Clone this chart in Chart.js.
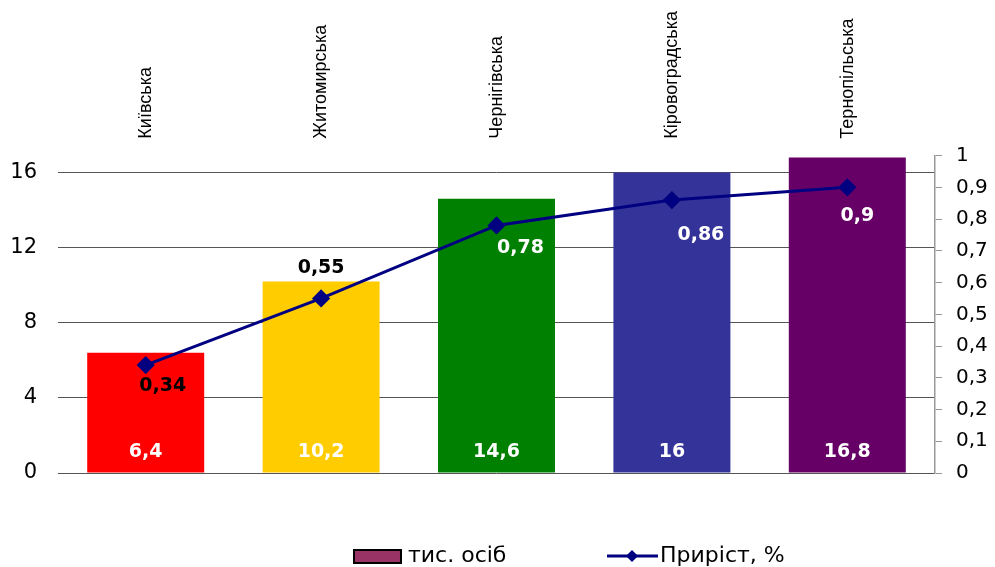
<!DOCTYPE html>
<html>
<head>
<meta charset="utf-8">
<script src="https://cdn.jsdelivr.net/npm/chart.js@4.4.1/dist/chart.umd.min.js"></script>
<style>
html,body{margin:0;padding:0;background:#fff;}
#wrap{width:995px;height:567px;}
</style>
</head>
<body>
<div id="wrap"><canvas id="chart"></canvas></div>
<script>
// дані
var oblasti = ["Київська", "Житомирська", "Чернігівська", "Кіровоградська", "Тернопільська"];
var tysOsib = [6.4, 10.2, 14.6, 16, 16.8];
var pryrist = [0.34, 0.55, 0.78, 0.86, 0.9];
var leftTicks = [0, 4, 8, 12, 16];
var barColors = ["#ff0000", "#ffcc00", "#008000", "#333399", "#660066"];
var legendNames = ["тис. осіб", "Приріст, %"];

// зсуви підписів лінії (dx, dy) та кольори
var lineLblOffset = [[17, 21], [0, -30], [24, 23], [29, 35], [10, 29]];
var lineLblColor = ["#000", "#000", "#fff", "#fff", "#fff"];

function koma(v){ return String(v).replace(".", ","); }

var FONT = "'Liberation Sans', Arial, sans-serif";
var WIDE = "'DejaVu Sans', sans-serif";

var labelsPlugin = {
    id: "labels",
    afterDatasetsDraw: function(chart){
        var ctx = chart.ctx;
        ctx.save();
        ctx.font = "bold 19px " + WIDE;
        ctx.textAlign = "center";
        ctx.textBaseline = "middle";
        var bars = chart.getDatasetMeta(1).data;
        for (let i = 0; i < bars.length; i++) {
            ctx.fillStyle = "#fff";
            ctx.fillText(koma(tysOsib[i]), bars[i].x, chart.chartArea.bottom - 21);
        }
        var pts = chart.getDatasetMeta(0).data;
        for (let i = 0; i < pts.length; i++) {
            ctx.fillStyle = lineLblColor[i];
            ctx.fillText(koma(pryrist[i]), pts[i].x + lineLblOffset[i][0], pts[i].y + lineLblOffset[i][1]);
        }
        ctx.restore();
    }
};

var legendPlugin = {
    id: "myLegend",
    afterDraw: function(chart){
        var ctx = chart.ctx;
        var y = 556;
        ctx.save();
        ctx.font = "22px " + WIDE;
        ctx.textBaseline = "middle";
        ctx.textAlign = "left";
        // прямокутник
        ctx.fillStyle = "#993366";
        ctx.fillRect(354, y - 6, 47, 13);
        ctx.strokeStyle = "#000";
        ctx.lineWidth = 2;
        ctx.strokeRect(354, y - 6, 47, 13);
        ctx.fillStyle = "#000";
        ctx.fillText(legendNames[0], 408, y);
        // лінія з ромбом
        ctx.strokeStyle = "#000080";
        ctx.lineWidth = 3;
        ctx.beginPath();
        ctx.moveTo(607, y);
        ctx.lineTo(658, y);
        ctx.stroke();
        ctx.fillStyle = "#000080";
        ctx.beginPath();
        ctx.moveTo(632, y - 6);
        ctx.lineTo(638, y);
        ctx.lineTo(632, y + 6);
        ctx.lineTo(626, y);
        ctx.closePath();
        ctx.fill();
        ctx.fillStyle = "#000";
        ctx.fillText(legendNames[1], 660, y);
        ctx.restore();
    }
};

var ctx = document.getElementById("chart").getContext("2d");
var chart = new Chart(ctx, {
    data: {
        labels: oblasti,
        datasets: [
            {
                type: "line",
                label: legendNames[1],
                data: pryrist,
                yAxisID: "y1",
                borderColor: "#000080",
                backgroundColor: "#000080",
                borderWidth: 3,
                pointStyle: "rectRot",
                pointRadius: 7,
                pointHoverRadius: 7,
                tension: 0
            },
            {
                type: "bar",
                label: legendNames[0],
                data: tysOsib,
                yAxisID: "y",
                backgroundColor: barColors,
                categoryPercentage: 1,
                barPercentage: 0.667
            }
        ]
    },
    options: {
        responsive: true,
        maintainAspectRatio: false,
        animation: false,
        layout: { padding: { left: 10, right: 6, top: 2, bottom: 94 } },
        plugins: { legend: { display: false }, tooltip: { enabled: false } },
        scales: {
            x: {
                position: "top",
                grid: { display: false },
                border: { display: false },
                afterFit: function(axis){
                    // повернуті підписи не повинні відсувати область графіка
                    axis.paddingLeft = 0;
                    axis.paddingRight = 0;
                },
                ticks: {
                    minRotation: 90,
                    maxRotation: 90,
                    padding: 9,
                    labelOffset: 22,
                    color: "#000",
                    font: { family: FONT, size: 18 }
                }
            },
            y: {
                position: "left",
                min: 0,
                max: 16.9,
                afterBuildTicks: function(axis){
                    axis.ticks = leftTicks.map(function(v){ return { value: v }; });
                },
                afterFit: function(axis){ axis.width = 48; },
                grid: { color: "#555", lineWidth: 1, drawTicks: false },
                border: { display: false },
                ticks: {
                    padding: 21,
                    color: "#000",
                    font: { family: WIDE, size: 21 }
                }
            },
            y1: {
                position: "right",
                min: 0,
                max: 1,
                afterFit: function(axis){ axis.width = 54; },
                grid: { drawOnChartArea: false, drawTicks: true, tickLength: 7, color: "#999" },
                border: { display: true, color: "#999", width: 1.5 },
                ticks: {
                    stepSize: 0.1,
                    padding: 14,
                    color: "#000",
                    font: { family: WIDE, size: 20 },
                    callback: function(v){ return koma(Math.round(v * 10) / 10); }
                }
            }
        }
    },
    plugins: [labelsPlugin, legendPlugin]
});
</script>
</body>
</html>
